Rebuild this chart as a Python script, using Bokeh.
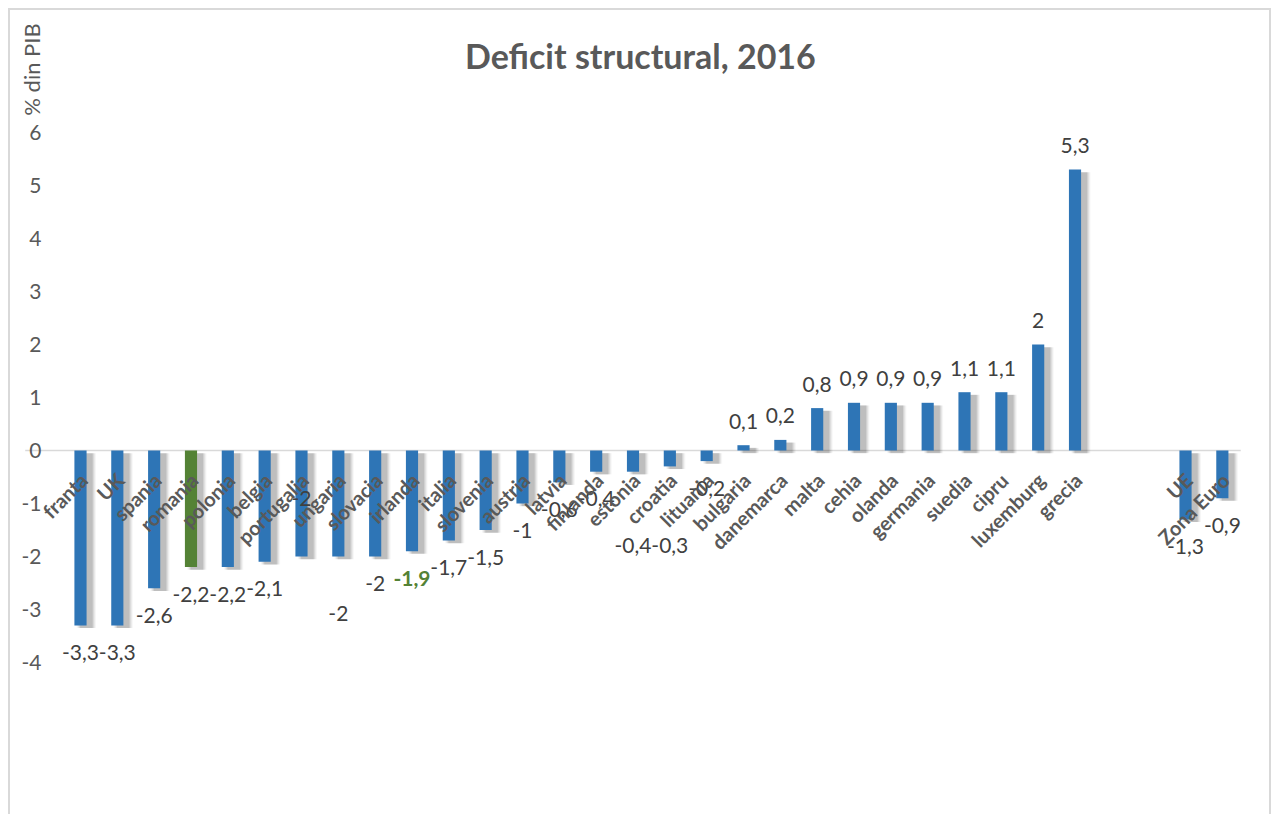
import math
from bokeh.plotting import figure
from bokeh.models import ColumnDataSource, FactorRange, Range1d
from bokeh.transform import dodge
from bokeh.core.properties import value
from bokeh.embed import file_html
from bokeh.resources import INLINE

# ---------------- data ----------------
countries = ["franta", "UK", "spania", "romania", "polonia", "belgia", "portugalia",
             "ungaria", "slovacia", "irlanda", "italia", "slovenia", "austria", "latvia",
             "finlanda", "estonia", "croatia", "lituania", "bulgaria", "danemarca", "malta",
             "cehia", "olanda", "germania", "suedia", "cipru", "luxemburg", "grecia"]
country_values = [-3.3, -3.3, -2.6, -2.2, -2.2, -2.1, -2.0,
                  -2.0, -2.0, -1.9, -1.7, -1.5, -1.0, -0.6,
                  -0.4, -0.4, -0.3, -0.2, 0.1, 0.2, 0.8,
                  0.9, 0.9, 0.9, 1.1, 1.1, 2.0, 5.3]
aggregates = ["UE", "Zona Euro"]
aggregate_values = [-1.3, -0.9]
y_ticks = [-4, -3, -2, -1, 0, 1, 2, 3, 4, 5, 6]
title_text = "Deficit structural, 2016"
y_title = "% din PIB"
highlight_bar = "romania"
highlight_label = "irlanda"

# ---------------- styles / layout ----------------
BLUE = "#2e75b6"
GREEN = "#548235"
GREY_TXT = "#595959"
LABEL_TXT = "#404040"
RULE = "#d9d9d9"
FONT = "Lato"
label_nudge = {"portugalia": -58, "ungaria": 57, "estonia": 74, "croatia": 79}

W, H = 1263, 806            # drawing area inside the css border
ORIGIN = 10                 # page offset of the drawing area (margin + border)
SLOT = 36.84                # px per category slot
PAD = 0.40                  # absolute factor padding
PX_UNIT = 53.0              # px per y unit
ZERO = 440                  # px from top of drawing area to y = 0

cats = countries + aggregates
vals = country_values + aggregate_values
factors = [""] + countries + [" ", "  "] + aggregates
N = len(factors)
frame_w = round((N + 2 * PAD) * SLOT)


def sx(page_x):
    return (page_x - ORIGIN) / SLOT - PAD


def sy(page_y):
    return (ZERO - (page_y - ORIGIN)) / PX_UNIT


bar_colors = [GREEN if c == highlight_bar else BLUE for c in cats]
lab_text = [("%g" % v).replace(".", ",") for v in vals]
lab_color = [GREEN if c == highlight_label else LABEL_TXT for c in cats]
lab_style = ["bold" if c == highlight_label else "normal" for c in cats]
lab_dy = [label_nudge.get(c, 27 if v < 0 else -24) for c, v in zip(cats, vals)]
sh_top = [v - 0.05 for v in vals]
sh_bot = [-0.05 for v in vals]

src = ColumnDataSource(dict(cat=cats, val=vals, color=bar_colors, lab=lab_text,
                            lab_color=lab_color, lab_style=lab_style, lab_dy=lab_dy,
                            sh_top=sh_top, sh_bot=sh_bot))

p = figure(x_range=FactorRange(factors=factors, range_padding=PAD,
                               range_padding_units="absolute"),
           y_range=Range1d(-(H - ZERO) / PX_UNIT, ZERO / PX_UNIT),
           width=W, height=H, output_backend="svg", toolbar_location=None,
           x_axis_location=None, y_axis_location=None, title=None,
           min_border_left=0, min_border_right=W - frame_w, min_border_top=0,
           min_border_bottom=0)
p.styles = {"margin-left": "8px", "margin-top": "8px",
            "border-top": "2px solid " + RULE, "border-left": "2px solid " + RULE,
            "border-right": "2px solid " + RULE}
p.outline_line_color = None
p.xgrid.visible = False
p.ygrid.visible = False
p.background_fill_color = "white"
p.border_fill_color = "white"

# zero line (category axis)
p.segment(x0=[0.0], x1=[float(N)], y0=[0], y1=[0], line_color=RULE, line_width=1.5)

# y tick labels
p.text(x=[sx(41)] * len(y_ticks), y=y_ticks, text=[str(t) for t in y_ticks],
       text_align="right", text_baseline="middle", text_font=value(FONT),
       text_font_size="21px", text_color=GREY_TXT)

# soft drop shadow
for w, a in [(0.52, 0.04), (0.46, 0.06), (0.40, 0.08), (0.34, 0.10)]:
    p.vbar(x=dodge("cat", 0.16, range=p.x_range), top="sh_top", bottom="sh_bot", width=w,
           fill_color="black", fill_alpha=a, line_color=None, source=src)

p.vbar(x="cat", top="val", bottom=0, width=0.33, fill_color="color", line_color=None,
       source=src)

# data labels
p.text(x="cat", y="val", text="lab", y_offset="lab_dy", text_align="center",
       text_baseline="middle", text_font=value(FONT), text_font_size="21px",
       text_color="lab_color", text_font_style="lab_style", source=src)

# category labels along the zero line
p.text(x="cat", y=0, text="cat", x_offset=3, y_offset=26, angle=math.pi / 4,
       text_align="right", text_baseline="middle", text_font=value(FONT),
       text_font_size="20px", text_font_style="bold", text_color=GREY_TXT, source=src)

# chart title and axis title
p.text(x=[sx(640)], y=[sy(55)], text=[title_text], text_align="center",
       text_baseline="alphabetic", text_font=value(FONT), text_font_style="bold",
       text_font_size="34px", text_color=GREY_TXT)
p.text(x=[sx(31)], y=[sy(69)], text=[y_title], angle=math.pi / 2, text_align="center",
       text_baseline="middle", text_font=value(FONT), text_font_size="22px",
       text_color=GREY_TXT)

open("out.html", "w").write(file_html(p, INLINE))
